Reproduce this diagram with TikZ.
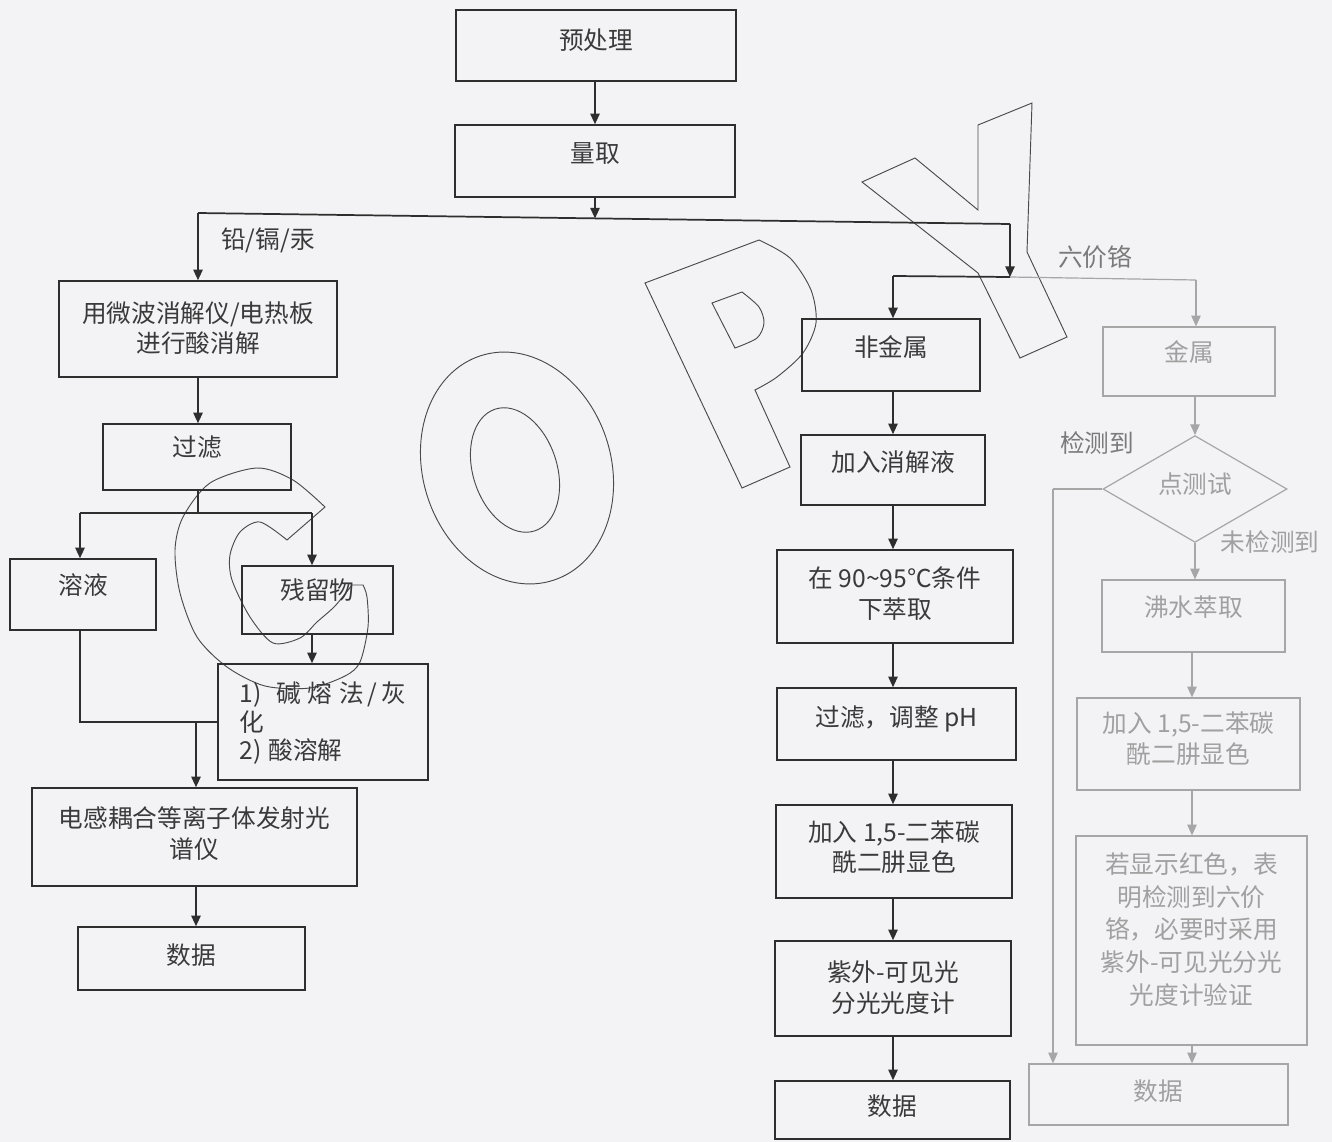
\documentclass[tikz,border=0pt]{standalone}
\usepackage{fontspec}
\newfontfamily\cjk{Noto Sans CJK SC}
\usetikzlibrary{arrows.meta,shapes.geometric}
\definecolor{bgc}{HTML}{F3F3F5}
\definecolor{lc}{HTML}{2E2E2E}
\definecolor{tc}{HTML}{3A3A3A}
\definecolor{gl}{HTML}{A6A6A6}
\definecolor{gt}{HTML}{A0A0A0}
\definecolor{lt}{HTML}{7A7A7A}
\definecolor{wmc}{HTML}{4A4A4A}
\begin{document}
\begin{tikzpicture}[x=0.75pt,y=-0.75pt,
 corners/.style n args={4}{minimum width={0.75pt*(#3-#1)}, minimum height={0.75pt*(#4-#2)}, at={({(#1+#3)/2},{(#2+#4)/2})}},
 box/.style={draw=lc,line width=1.1pt,inner sep=0pt,align=center,text=tc,text depth=9pt,font=\cjk\fontsize{18.5}{23}\selectfont},
 gbox/.style={box,draw=gl,line width=0.9pt,text=gt},
 arr/.style={draw=lc,line width=1.3pt,-{Triangle[width=7pt,length=8pt]}},
 ln/.style={draw=lc,line width=1.3pt},
 garr/.style={draw=gl,line width=0.9pt,-{Triangle[width=7pt,length=8pt]}},
 gln/.style={draw=gl,line width=0.9pt},
 lab/.style={text=tc,font=\cjk\fontsize{18.5}{23}\selectfont,inner sep=0pt},
 wmk/.style={draw=wmc,line width=0.7pt}]
\fill[bgc] (0,0) rectangle (1332,1142);
\useasboundingbox (0,0) rectangle (1332,1142);

% watermark "COPY"
\draw[wmk] plot[smooth] coordinates {(325,507) (293,480) (257,468) (210,483) (183,517) (175,550) (180,593) (197,637) (227,667) (265,686) (310,688) (345,676) (360,662) (368,627) (367,597) (363,585)}
  -- plot[smooth] coordinates {(352,585) (335,606) (317,622) (300,638) (273,643) (250,617) (232,580) (230,555) (240,532) (260,522) (287,540)} -- cycle;
\draw[wmk, rotate around={18:(517,468)}] (517,468) ellipse [x radius=94, y radius=118];
\draw[wmk, rotate around={18:(515,470)}] (515,470) ellipse [x radius=42, y radius=64];
\draw[wmk] (742,488) -- (645,283) -- plot[smooth] coordinates {(759,240) (790,258) (811,290) (816,323) (803,353) (777,377) (755,390)} -- (790,467) -- cycle;
\draw[wmk] (712,303) -- plot[smooth] coordinates {(742,292) (759,307) (764,323) (757,338) (735,348)} -- cycle;
\draw[wmk] (862,182) -- (915,158) -- (978,210) -- (978,125) -- (1032,103) -- (1027,252) -- (1067,337) -- (1020,358) -- (978,273) -- cycle;

% top
\node[box, corners={456}{10}{736}{81}] (pre) {预处理};
\node[box, corners={455}{125}{735}{197}, text depth=12pt] (meas) {量取};

% left column
\node[box, corners={59}{281}{337}{377}, text depth=3pt] (acid) {用微波消解仪/电热板\\进行酸消解};
\node[box, corners={103}{424}{291}{490}, text depth=16pt] (filt) {过滤};
\node[box, corners={10}{559}{156}{630}, text depth=15pt] (sol) {溶液};
\node[box, corners={242}{566}{393}{634}, text depth=16pt] (res) {残留物};
\node[box, corners={218}{664}{428}{780}, align=left, text depth=2pt, font=\cjk\fontsize{18.5}{21.5}\selectfont] (alk) {1)\hspace{11pt}碱\hspace{5pt}熔\hspace{5pt}法\hspace{3pt}/\hspace{3pt}灰\\化\\2)\hspace{5pt}酸溶解};
\node[box, corners={32}{788}{357}{886}, text depth=7pt] (icp) {电感耦合等离子体发射光\\谱仪};
\node[box, corners={78}{927}{305}{990}, text depth=7pt] (dataL) {数据};

% middle column
\node[box, corners={802}{319}{980}{391}, text depth=14pt] (nm) {非金属};
\node[box, corners={801}{435}{985}{505}, text depth=14pt] (add) {加入消解液};
\node[box, corners={777}{550}{1013}{643}, text depth=6pt] (ext) {在 90\textasciitilde95℃条件\\下萃取};
\node[box, corners={777}{688}{1016}{760}, text depth=12pt] (fph) {过滤，调整 pH};
\node[box, corners={776}{805}{1012}{898}, text depth=8pt] (dpc) {加入 1,5-二苯碳\\酰二肼显色};
\node[box, corners={775}{941}{1011}{1036}, text depth=3pt] (uv) {紫外-可见光\\分光光度计};
\node[box, corners={775}{1081}{1010}{1139}, text depth=7pt] (dataM) {数据};

% right column
\node[gbox, corners={1103}{327}{1275}{396}, text depth=15pt] (met) {金属};
\node[gbox, diamond, minimum width=138pt, minimum height=69pt, text depth=9pt] (dia) at (1195,489) {点测试};
\node[gbox, corners={1102}{580}{1285}{652}, text depth=15pt] (boil) {沸水萃取};
\node[gbox, corners={1077}{698}{1300}{790}, text depth=10pt] (dpc2) {加入 1,5-二苯碳\\酰二肼显色};
\node[gbox, corners={1076}{836}{1307}{1045}, text depth=18pt, font=\cjk\fontsize{18.5}{24.5}\selectfont] (red) {若显示红色，表\\明检测到六价\\铬，必要时采用\\紫外-可见光分光\\光度计验证};
\node[gbox, corners={1029}{1064}{1288}{1125}, text depth=7pt] (dataR) {数据};

% labels
\node[lab] (lpb) at (268,240) {铅/镉/汞};
\node[lab, text=lt] (lcr) at (1095,257) {六价铬};
\node[lab, text=lt] (ldet) at (1097,443) {检测到};
\node[lab, text=gt] (lnd) at (1270,542) {未检测到};

% connectors top
\coordinate (hL) at (198,213);
\coordinate (hR) at (1010,224);
\coordinate (hM) at (595,218.5);
\coordinate (h2) at (1010,277);
\coordinate (h2L) at (893,276);
\coordinate (h2R) at (1196,280);
\draw[arr] (pre.south -| hM) -- (meas.north -| hM);
\draw[arr] (meas.south -| hM) -- (hM);
\draw[ln] (hL) -- (hR);
\draw[arr] (hL) -- (hL |- acid.north);
\draw[arr] (hR) -- (h2);
\draw[ln] (h2L) -- (h2);
\draw[gln] (h2) -- (h2R);
\draw[arr] (h2L) -- (h2L |- nm.north);
\draw[garr] (h2R) -- (h2R |- met.north);

% left connectors
\coordinate (fj) at (198,513);
\coordinate (fjl) at (80,513);
\coordinate (fjr) at (312,513);
\coordinate (sj) at (80,722);
\coordinate (ij) at (196,722);
\draw[arr] (acid.south -| fj) -- (filt.north -| fj);
\draw[ln] (filt.south -| fj) -- (fj);
\draw[ln] (fjl) -- (fjr);
\draw[arr] (fjl) -- (fjl |- sol.north);
\draw[arr] (fjr) -- (fjr |- res.north);
\draw[arr] (res.south -| fjr) -- (alk.north -| fjr);
\draw[ln] (sol.south -| sj) -- (sj) -- (sj -| alk.west);
\draw[arr] (ij) -- (ij |- icp.north);
\draw[arr] (icp.south -| ij) -- (dataL.north -| ij);

% middle connectors
\coordinate (mx) at (893,0);
\draw[arr] (nm.south -| mx) -- (add.north -| mx);
\draw[arr] (add.south -| mx) -- (ext.north -| mx);
\draw[arr] (ext.south -| mx) -- (fph.north -| mx);
\draw[arr] (fph.south -| mx) -- (dpc.north -| mx);
\draw[arr] (dpc.south -| mx) -- (uv.north -| mx);
\draw[arr] (uv.south -| mx) -- (dataM.north -| mx);

% right connectors
\coordinate (rx) at (1195,0);
\coordinate (rx2) at (1192,0);
\coordinate (dw) at (1053,489);
\draw[garr] (met.south -| rx) -- (dia.north);
\draw[gln] (dia.west) -- (dw);
\draw[garr] (dw) -- (dw |- dataR.north);
\draw[garr] (dia.south) -- (dia.south |- boil.north);
\draw[garr] (boil.south -| rx2) -- (dpc2.north -| rx2);
\draw[garr] (dpc2.south -| rx2) -- (red.north -| rx2);
\draw[garr] (red.south -| rx2) -- (dataR.north -| rx2);
\end{tikzpicture}
\end{document}
